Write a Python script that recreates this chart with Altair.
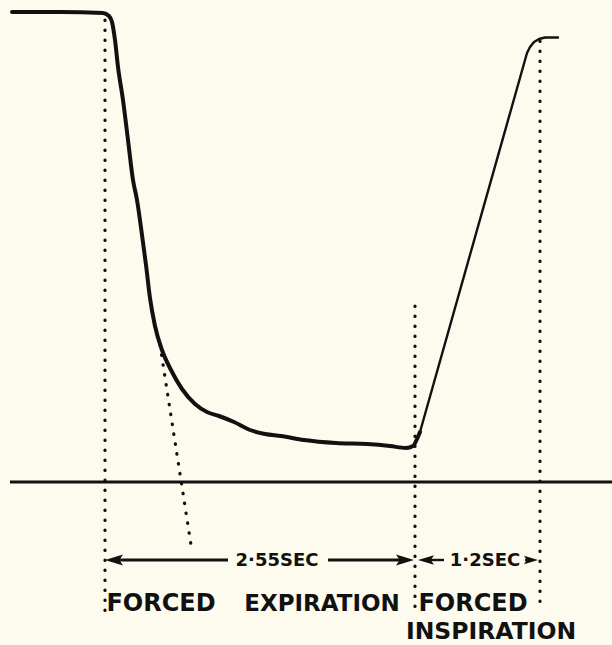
import altair as alt
import pandas as pd

exp_x = [12, 60, 103, 109, 112, 115, 118, 123, 128, 133, 137, 142, 146, 150, 155, 162, 171, 182,
         195, 207, 219, 234, 250, 265, 281, 304, 336, 367, 390, 406, 413, 417, 420]
exp_y = [12, 12, 13, 16, 22, 40, 67, 100, 140, 180, 200, 235, 265, 298, 326, 350, 370, 389,
         404, 412, 416, 422, 430, 434, 436, 440, 443, 444, 446, 448, 446, 439, 432]

insp_x = [420, 527, 530, 534, 539, 545, 558]
insp_y = [432, 53, 47, 42, 39, 37.5, 37.5]

base_x = [10, 612]
base_y = [482, 482]

# dotted construction lines (x1, y1, x2, y2)
guide_x1 = [105, 415, 540, 160]
guide_y1 = [20, 306, 41, 345]
guide_x2 = [105, 415, 540, 191]
guide_y2 = [614, 612, 604, 545]

# arrow shafts
shaft_x1 = [112, 328, 427, 525]
shaft_x2 = [228, 405, 444, 531]
shaft_y = [560, 560, 560, 560]
shaft_w = [3, 3, 2.4, 2.4]

# arrow heads
head_left_x = [114, 426]
head_left_y = [560, 560]
head_left_size = [324, 256]
head_right_x = [405, 531]
head_right_y = [560, 560]
head_right_size = [324, 196]

dur_labels = ["2·55SEC", "1·2SEC"]
dur_x = [277, 485]
dur_y = [566, 566]

phase_labels = ["FORCED", "EXPIRATION", "FORCED", "INSPIRATION"]
phase_x = [161, 322, 473, 491]
phase_y = [611, 611, 611, 639]
phase_size = [24, 23, 24, 23.5]

INK = "#111111"
BG = "#fdfbee"

xs = alt.Scale(domain=[0, 612], nice=False, zero=False)
ys = alt.Scale(domain=[0, 645], nice=False, zero=False, reverse=True)

def X(f):
    return alt.X(f, type="quantitative", scale=xs, axis=None)

def Y(f):
    return alt.Y(f, type="quantitative", scale=ys, axis=None)

exp_df = pd.DataFrame({"x": exp_x, "y": exp_y})
insp_df = pd.DataFrame({"x": insp_x, "y": insp_y})
base_df = pd.DataFrame({"x": base_x, "y": base_y})
guide_df = pd.DataFrame({"x": guide_x1, "y": guide_y1, "x2": guide_x2, "y2": guide_y2})
shaft_df = pd.DataFrame({"x": shaft_x1, "x2": shaft_x2, "y": shaft_y, "w": shaft_w})
hl_df = pd.DataFrame({"x": head_left_x, "y": head_left_y, "s": head_left_size})
hr_df = pd.DataFrame({"x": head_right_x, "y": head_right_y, "s": head_right_size})
dur_df = pd.DataFrame({"label": dur_labels, "x": dur_x, "y": dur_y})
ph_df = pd.DataFrame({"label": phase_labels, "x": phase_x, "y": phase_y, "fs": phase_size})

baseline = alt.Chart(base_df).mark_line(color=INK, strokeWidth=3).encode(x=X("x"), y=Y("y"))
expir = alt.Chart(exp_df).mark_line(color=INK, strokeWidth=4, interpolate="monotone",
                                    strokeJoin="round", strokeCap="round").encode(x=X("x"), y=Y("y"))
inspir = alt.Chart(insp_df).mark_line(color=INK, strokeWidth=2.4, interpolate="linear",
                                      strokeJoin="round", strokeCap="round").encode(x=X("x"), y=Y("y"))
guides = alt.Chart(guide_df).mark_rule(color=INK, strokeWidth=3.2, strokeDash=[0.5, 9.5],
                                       strokeCap="round").encode(
    x=X("x"), y=Y("y"), x2="x2", y2="y2")
shafts = alt.Chart(shaft_df).mark_rule(color=INK).encode(
    x=X("x"), x2="x2", y=Y("y"), strokeWidth=alt.StrokeWidth("w:Q", scale=None))
heads_l = alt.Chart(hl_df).mark_point(shape="M-1,0L1,-0.6L0.6,0L1,0.6Z", filled=True,
                                      color=INK, opacity=1).encode(
    x=X("x"), y=Y("y"), size=alt.Size("s:Q", scale=None))
heads_r = alt.Chart(hr_df).mark_point(shape="M1,0L-1,-0.6L-0.6,0L-1,0.6Z", filled=True,
                                      color=INK, opacity=1).encode(
    x=X("x"), y=Y("y"), size=alt.Size("s:Q", scale=None))
dur_text = alt.Chart(dur_df).mark_text(font="DejaVu Sans", fontWeight="bold", fontSize=18,
                                       color=INK, baseline="alphabetic", align="center").encode(
    x=X("x"), y=Y("y"), text="label:N")
ph_text = alt.Chart(ph_df).mark_text(font="DejaVu Sans", fontWeight="bold",
                                     color=INK, baseline="alphabetic", align="center").encode(
    x=X("x"), y=Y("y"), text="label:N", size=alt.Size("fs:Q", scale=None))

chart = alt.layer(baseline, guides, expir, inspir, shafts, heads_l, heads_r,
                  dur_text, ph_text).properties(
    width=612, height=645, padding=0, autosize=alt.AutoSizeParams(type="none"),
    background=BG
).configure_view(stroke=None)

chart.save("out.html", embed_options={"renderer": "svg", "actions": False})
